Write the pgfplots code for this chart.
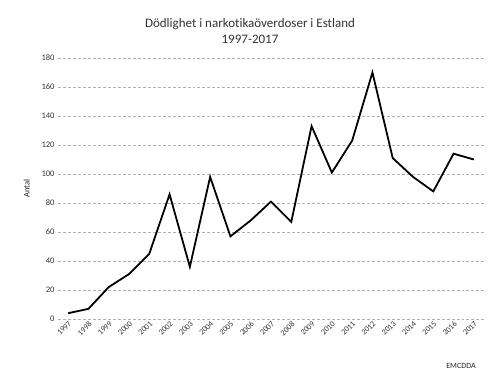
\documentclass[border=0pt]{standalone}
\usepackage{fontspec}
\setmainfont[Ligatures=NoCommon]{Carlito}
\usepackage{pgfplots}
\pgfplotsset{compat=1.18}
\begin{document}
\begin{tikzpicture}[x=1bp,y=1bp]
\path[use as bounding box] (0,0) rectangle (500,382);
\node[font=\fontsize{13bp}{16bp}\selectfont, text=black!80, align=center] at (250,351) {Dödlighet i narkotikaöverdoser i Estland\\1997-2017};
\node[font=\fontsize{8bp}{10bp}\selectfont, text=black!85] at (461,16) {EMCDDA};
\begin{axis}[
  at={(58bp,63bp)}, anchor=south west,
  width=426bp, height=261bp, scale only axis,
  xmin=1996.5, xmax=2017.5, ymin=0, ymax=180,
  xtick={1997,...,2017},
  ytick={0,20,...,180},
  axis line style={draw=none},
  tick style={draw=none},
  ymajorgrids,
  grid style={black!30, densely dashed, line width=0.5pt},
  x tick label style={rotate=45, anchor=north east, font=\fontsize{8bp}{10bp}\selectfont, text=black!80, inner sep=1bp},
  y tick label style={font=\fontsize{8.5bp}{10bp}\selectfont, text=black!80},
  /pgf/number format/assume math mode=true,
  xticklabel={\pgfmathprintnumber[1000 sep={}]{\tick}},
  yticklabel={\pgfmathprintnumber{\tick}},
  ylabel={Antal},
  ylabel style={font=\fontsize{8.5bp}{10bp}\selectfont, text=black!85, yshift=5bp},
  clip=false,
]
\addplot[black, line width=1.8pt, mark=none, line join=miter] coordinates {
(1997,4) (1998,7) (1999,22) (2000,31) (2001,45) (2002,86) (2003,36) (2004,98)
(2005,57) (2006,68) (2007,81) (2008,67) (2009,133) (2010,101) (2011,123)
(2012,170) (2013,111) (2014,98) (2015,88) (2016,114) (2017,110)
};
\end{axis}
\end{tikzpicture}
\end{document}
